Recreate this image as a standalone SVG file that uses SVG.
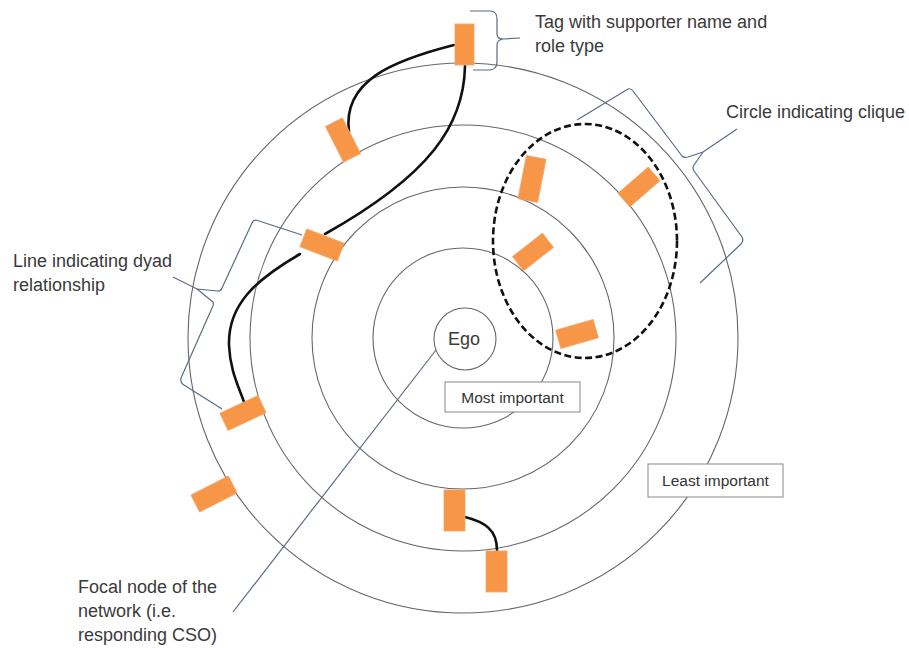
<svg xmlns="http://www.w3.org/2000/svg" width="909" height="648" viewBox="0 0 909 648">
<defs>
<style>
.ring{fill:none;stroke:#666;stroke-width:1.1}
.call{fill:none;stroke:#5a6b86;stroke-width:1.2;stroke-linejoin:round}
.dyad{fill:none;stroke:#111;stroke-width:2.6;stroke-linecap:round}
.tag{fill:#F79646;stroke:#f4a468;stroke-width:0.8}
.lbl{font-family:"Liberation Sans",Arial,sans-serif;font-size:18px;fill:#3a3a3a}
.box{fill:#fff;stroke:#888;stroke-width:1}
.btxt{font-family:"Liberation Sans",Arial,sans-serif;font-size:15.5px;fill:#333;text-anchor:middle}
</style>
</defs>
<rect width="909" height="648" fill="#fff"/>
<g id="rings">
<circle class="ring" cx="463" cy="338" r="275"/>
<circle class="ring" cx="463" cy="338" r="213"/>
<circle class="ring" cx="463" cy="338" r="151"/>
<circle class="ring" cx="463" cy="338" r="90"/>
</g>
<g id="clique">
<ellipse cx="585" cy="241" rx="92" ry="117" fill="none" stroke="#111" stroke-width="2.6" stroke-dasharray="7,3.5"/>
</g>
<g id="connectors">
<path class="dyad" d="M454,45 C395,60 342,80 349,132"/>
<path class="dyad" d="M465,66 C464,125 430,175 325,234"/>
<path class="dyad" d="M300,254 C255,280 228,305 229,345 C230,370 238,385 244,402"/>
<path class="dyad" d="M465,517 C485,522 497,530 497,550"/>
</g>
<g id="callouts">
<path class="call" d="M470,11 L490,11 Q497,11 497,19 L497,34 Q497,39 503,39 L520,38 M503,39 Q497,40 497,45 L497,62 Q497,70 489,70 L473,70"/>
<path class="call" d="M577,120 L628,89 Q631,88 633,91 L682,156 Q684,158 688,157 L703,152 L694,165 Q692,168 694,171 L742,237 Q744,241 741,244 L700,283"/>
<path class="call" d="M737,129 L703,152"/>
<path class="call" d="M302,235 L256,220 Q253,220 252,223 L222,288 Q221,291 218,291 L197,289 L213,302 Q214,305 212,308 L181,378 Q180,383 184,385 L222,409"/>
<path class="call" d="M173,277 L197,289"/>
<path class="call" d="M436,350 L233,612"/>
</g>
<g id="tags">
<rect id="tag-top" class="tag" x="455" y="24" width="19" height="41"/>
<rect id="tag-2" class="tag" x="-9.5" y="-20" width="19" height="40" transform="translate(343,140) rotate(-27)"/>
<rect id="tag-3" class="tag" x="-20" y="-9.5" width="40" height="19" transform="translate(322,245) rotate(21)"/>
<rect id="tag-4" class="tag" x="-21" y="-9.5" width="42" height="19" transform="translate(243,413) rotate(-25)"/>
<rect id="tag-5" class="tag" x="-21" y="-9.5" width="42" height="19" transform="translate(214,494) rotate(-27)"/>
<rect id="tag-a" class="tag" x="-10" y="-22" width="20" height="44" transform="translate(532,179) rotate(11)"/>
<rect id="tag-b" class="tag" x="-20" y="-9" width="40" height="18" transform="translate(639,187) rotate(-41)"/>
<rect id="tag-c" class="tag" x="-19" y="-9" width="38" height="18" transform="translate(533,252) rotate(-38)"/>
<rect id="tag-d" class="tag" x="-19.5" y="-9.5" width="39" height="19" transform="translate(577,334) rotate(-16)"/>
<rect id="tag-e" class="tag" x="444" y="490" width="21" height="41"/>
<rect id="tag-f" class="tag" x="486" y="551" width="21" height="41"/>
</g>
<g id="ego">
<circle cx="465" cy="339" r="31" fill="#fff" stroke="#666" stroke-width="1.1"/>
<text class="lbl" x="464" y="345" text-anchor="middle">Ego</text>
</g>
<g id="most-important">
<rect class="box" x="445" y="382" width="135" height="30"/>
<text class="btxt" x="512.5" y="403">Most important</text>
</g>
<g id="least-important">
<rect class="box" x="648" y="464" width="135" height="33"/>
<text class="btxt" x="715.5" y="486">Least important</text>
</g>
<g id="labels">
<text class="lbl" x="535" y="28">Tag with supporter name and</text>
<text class="lbl" x="535" y="52">role type</text>
<text class="lbl" x="726" y="118">Circle indicating clique</text>
<text class="lbl" x="13" y="267">Line indicating dyad</text>
<text class="lbl" x="13" y="291">relationship</text>
<text class="lbl" x="78" y="593">Focal node of the</text>
<text class="lbl" x="78" y="617">network (i.e.</text>
<text class="lbl" x="78" y="641">responding CSO)</text>
</g>
</svg>
